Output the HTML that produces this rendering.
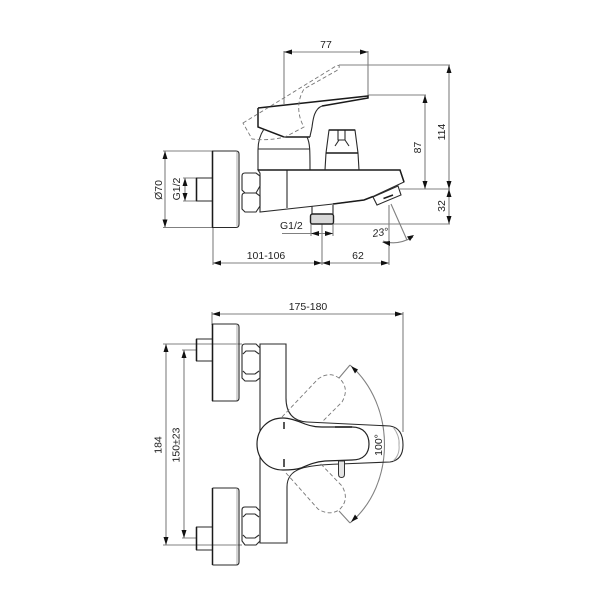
<!DOCTYPE html>
<html><head><meta charset="utf-8"><style>
html,body{margin:0;padding:0;background:#fff}
svg{display:block}
text{font-family:"Liberation Sans",sans-serif;font-size:10.5px;fill:#222}
.d{fill:none;stroke:#808080;stroke-width:1.1}
.o{fill:none;stroke:#2a2a2a;stroke-width:1.1}
.t{fill:none;stroke:#1a1a1a;stroke-width:1.5}
.g{fill:none;stroke:#aaa;stroke-width:1}
.h{fill:none;stroke:#777;stroke-width:.9;stroke-dasharray:4 2.5}
.a{fill:#111;stroke:none}
</style></head><body>
<svg width="603" height="603" viewBox="0 0 603 603" xmlns="http://www.w3.org/2000/svg">
<rect width="603" height="603" fill="#fff"/>
<!-- top view dims -->
<path class="d" d="M284 51V104M368 51V96M284 52H368M339 65H450M368 95H426M425 95V189M449 65V224M400 189H450M333 224H450M163 151H212M163 227.500H212M165 151V227.500M183 178H196M183 201H196M185 178V201M282 233.500H333M311 224V236M333 224V236M322 224V265M213 228V265M213 263H389M389 205V265M391 204L407 240"/>
<path class="d" d="M383 241Q397 246 413 237"/>
<g class="a">
<path d="M284 52l8-2.500v5zM368 52l-8-2.500v5zM425 95l-2.500 8h5zM449 65l-2.500 8h5zM425 189l-2.500-8h5zM449 189l-2.500-8h5zM449 189l-2.500 8h5zM449 224l-2.500-8h5z"/>
<path d="M165 151l-2.500 8h5zM165 227.500l-2.500-8h5zM185 178l-2.500 8h5zM185 201l-2.500-8h5z"/>
<path d="M311 233.500l8-2.500v5zM333 233.500l-8-2.500v5zM213 263l8-2.500v5zM322 263l-8-2.500v5zM322 263l8-2.500v5zM389 263l-8-2.500v5z"/>
<path d="M382 242l8-1v5zM414 235l-7 1.500 3 4.500z"/>
</g>
<!-- top view body -->
<path class="t" d="M258 108L368 96V98L322 106M258 108V127L284 137H310"/>
<path class="o" d="M322 106C314 109 313 120 312 127C311 133 310 135 310 137M264 129C260 135 258 142 258 150V170M307 137C310 143 310 150 310 170M258 149H310"/>
<path class="h" d="M243 123L336 66Q340 64 339 68Q338 70 336 71L304 89C296 102 298 117 304 127L285 137Q268 141 252 139Z"/>
<path class="o" d="M212.500 151H236Q239 151 239 154V224Q239 227.500 236 227.500H212.500ZM212.500 178H196.500V201H212.500"/>
<path class="t" d="M212.500 151V227.500M196.500 178V201"/>
<path class="g" d="M237 152V226"/>
<path class="o" d="M242 176Q242 173 245 173H256L260 176V186L256 193H245L242 190ZM242 196Q242 193 245 193H256L260 196V206L256 212H245L242 209Z"/>
<path class="o" d="M258 170H400L404 182L373 196.500L364 200L333 204L260 212V173ZM287 170V208"/>
<path class="t" d="M258 170H400L404 182M373 196.500L364 200L333 204"/>
<path class="o" d="M373 197L398 186L401 195L377 205Z"/>
<path class="t" d="M383.500 198.500L393 195"/>
<path class="o" d="M325 170L326 153L329 130H355L358 153L359 170M338 130V140H345V130M335 146L339 140M345 140L349 146"/>
<path class="t" d="M326 153H358M329 130H355"/>
<path class="o" d="M312 206V214M333 205V214"/>
<rect x="310.500" y="214" width="23" height="10" rx="2" fill="#d8d8d8" stroke="#222" stroke-width="1.400"/>
<!-- bottom view dims -->
<path class="d" d="M212 312V325M403 312V432M212 314H403M163 344H242M166 344V545M163 545H242M182 350H196M184 350V538M182 538H196M339 378L350 365M339 511L350 523"/>
<path class="d" d="M350 365C396 405 396 485 350 523"/>
<g class="a">
<path d="M212 314l8-2.500v5zM403 314l-8-2.500v5zM166 344l-2.500 8h5zM166 545l-2.500-8h5zM184 350l-2.500 8h5zM184 538l-2.500-8h5zM351 366l4 7.500 3-4zM351 522l4-7.500 3 4z"/>
</g>
<!-- bottom view -->
<path class="o" d="M212.500 324H236Q239 324 239 327V398Q239 401 236 401H212.500ZM212.500 339H196.500V361H212.500"/>
<path class="t" d="M212.500 324V401M196.500 339V361"/>
<path class="g" d="M237 325V400"/>
<path class="o" d="M242 347Q242 344 245 344H256L260 348V378L256 381H245L242 378ZM243 354L246 351H255L259 354M243 371L246 374H255L259 371"/>
<path class="o" d="M212.500 488H236Q239 488 239 491V562Q239 565 236 565H212.500M212.500 527H196.500V550H212.500"/>
<path class="t" d="M212.500 488V565M196.500 527V550"/>
<path class="g" d="M237 489V564"/>
<path class="o" d="M242 510Q242 507 245 507H256L260 511V541L256 545H245L242 541ZM243 517L246 514H255L259 517M243 535L246 538H255L259 535"/>
<path class="o" d="M260 344H286V398C286 412 292 421 307 422L390 426Q403 428 403 445Q403 460 390 462L340 464C305 465 287 468 287 487V543H260Z"/>
<path class="g" d="M393 427Q400 436 399 445Q400 455 393 461"/>
<path class="h" d="M282 417L318 379Q329 371 339 378Q350 388 342 402L322 422M286 473L318 509Q329 516 339 510Q350 500 342 486L318 461"/>
<path fill="#fff" stroke="#222" stroke-width="1.200" d="M283 418C290 418 298 421 305 424C313 427 318 427 325 427H352C364 427 369 435 369 444C369 453 364 460 352 460L325 461C314 462 308 465 301 468C295 470 289 470 283 470C268 470 257 459 257 444C257 429 268 418 283 418Z"/>
<path class="t" d="M335 427H352"/>
<path stroke="#111" stroke-width="1.400" d="M284 422V429M284 459V467"/>
<path fill="#e4e4e4" stroke="#333" stroke-width="1" d="M338.500 461V474Q338.500 477.500 341.500 477.500Q344.500 477.500 344.500 474V461Z"/>
<!-- labels -->
<text x="326" y="48" text-anchor="middle">77</text>
<text x="280" y="229">G1/2</text>
<text x="266" y="259" text-anchor="middle">101-106</text>
<text x="358" y="259" text-anchor="middle">62</text>
<text x="373" y="237" transform="rotate(-8 373 237)" font-style="italic">23°</text>
<text x="308" y="310" text-anchor="middle">175-180</text>
<g text-anchor="middle">
<text transform="translate(445,132) rotate(-90)">114</text>
<text transform="translate(421,147.500) rotate(-90)">87</text>
<text transform="translate(445,206) rotate(-90)">32</text>
<text transform="translate(162,190) rotate(-90)">Ø70</text>
<text transform="translate(180,189) rotate(-90)">G1/2</text>
<text transform="translate(161.500,445) rotate(-90)">184</text>
<text transform="translate(179.500,445) rotate(-90)">150±23</text>
<text transform="translate(382,445) rotate(-90)">100°</text>
</g>
</svg>
</body></html>
